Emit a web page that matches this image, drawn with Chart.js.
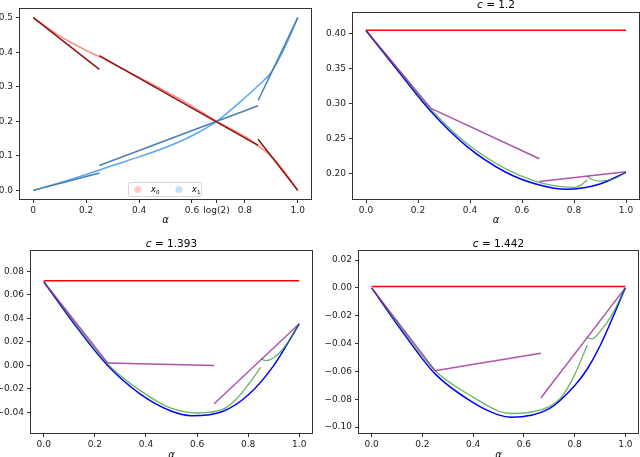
<!DOCTYPE html>
<html>
<head>
<meta charset="utf-8">
<script src="https://cdn.jsdelivr.net/npm/chart.js@4.4.0/dist/chart.umd.min.js"></script>
<style>
  html, body { margin: 0; padding: 0; background: #fff; overflow: hidden; width: 640px; height: 457px; }
  canvas { position: absolute; left: 0; top: 0; }
</style>
</head>
<body>
<canvas id="pTL" width="640" height="470"></canvas>
<canvas id="pTR" width="640" height="470"></canvas>
<canvas id="pBL" width="640" height="470"></canvas>
<canvas id="pBR" width="640" height="470"></canvas>
<script>
// ---------- data: top-left panel ----------
const alphaTL = [0, 0.1, 0.2, 0.25, 0.3, 0.4, 0.5, 0.6, 0.693, 0.8, 0.85, 0.9, 0.95, 1.0];
const x0Curve = [0.5, 0.447, 0.405, 0.387, 0.367, 0.327, 0.287, 0.244, 0.2, 0.156, 0.129, 0.099, 0.054, 0.0];
const x1Curve = [0, 0.022, 0.046, 0.059, 0.072, 0.097, 0.124, 0.158, 0.2, 0.268, 0.303, 0.342, 0.412, 0.5];
const segAlphaTL = [[0, 0.25], [0.25, 0.85], [0.85, 1.0]];
const x0Tangents = [[0.5, 0.35], [0.39, 0.13], [0.148, 0.0]];
const x1Tangents = [[0, 0.05], [0.072, 0.245], [0.26, 0.5]];
const xTicksTL = [0, 0.2, 0.4, 0.6, Math.log(2), 0.8, 1.0];
const xLabelsTL = ["0", "0.2", "0.4", "0.6", "log(2)", "0.8", "1.0"];
const yTicksTL = [0, 0.1, 0.2, 0.3, 0.4, 0.5];
const yLabelsTL = ["0.0", "0.1", "0.2", "0.3", "0.4", "0.5"];
const legendLabels = ["0", "1"];

// ---------- data: the three c panels ----------
const cLabels = ["1.2", "1.393", "1.442"];

const blueAlphaC1 = [0, 0.125, 0.25, 0.383, 0.536, 0.65, 0.77, 0.9, 1.0];
const blueC1 = [0.404, 0.3455, 0.2885, 0.2405, 0.2025, 0.1858, 0.1778, 0.1855, 0.202];
const blueAlphaC2 = [0, 0.124, 0.25, 0.378, 0.4955, 0.58, 0.7, 0.8, 0.9, 1.0];
const blueC2 = [0.071, 0.0338, -0.0002, -0.0245, -0.0386, -0.0428, -0.0392, -0.0252, -0.0002, 0.0353];
const blueAlphaC3 = [0, 0.125, 0.25, 0.4, 0.5, 0.55, 0.7, 0.8, 0.85, 0.9, 1.0];
const blueC3 = [0, -0.0325, -0.0618, -0.0825, -0.0913, -0.093, -0.0868, -0.0703, -0.0583, -0.0418, 0];

const greenAlphaC1 = [0, 0.125, 0.25, 0.383, 0.536, 0.65, 0.75, 0.8, 0.825, 0.85];
const greenC1a = [0.404, 0.3475, 0.2915, 0.2445, 0.2072, 0.1895, 0.1815, 0.1805, 0.1835, 0.191];
const greenAlphaC2 = [0, 0.124, 0.25, 0.378, 0.4955, 0.6, 0.7, 0.75, 0.8, 0.85];
const greenC2a = [0.071, 0.0352, 0.0012, -0.0215, -0.0362, -0.0405, -0.0375, -0.0295, -0.0165, -0.0015];
const greenAlphaC3 = [0, 0.125, 0.25, 0.4, 0.5, 0.55, 0.7, 0.75, 0.8, 0.85];
const greenC3a = [0, -0.031, -0.0595, -0.0785, -0.0885, -0.0903, -0.0853, -0.078, -0.0625, -0.041];

const greenAlphaB = [0.85, 0.87, 0.9, 0.95, 1.0];
const greenC1b = [0.1966, 0.1918, 0.1895, 0.1925, 0.202];
const greenC2b = [0.0055, 0.004, 0.0065, 0.0175, 0.0353];
const greenC3b = [-0.0357, -0.0366, -0.0315, -0.0185, 0];

const segAlphaC = [[0, 0.25], [0.25, 0.667], [0.667, 1.0]];
const purpleC1 = [[0.404, 0.2931], [0.2931, 0.2214], [0.189, 0.2029]];
const purpleC2 = [[0.071, 0.002], [0.002, -0.0002], [-0.0326, 0.0353]];
const purpleC3 = [[0.0, -0.0595], [-0.0595, -0.047], [-0.0792, 0.0]];
const redLevel = [0.4043, 0.072, 0.001];

const xTicksC = [0, 0.2, 0.4, 0.6, 0.8, 1.0];
const xLabelsC = ["0.0", "0.2", "0.4", "0.6", "0.8", "1.0"];
const yTicksC1 = [0.20, 0.25, 0.30, 0.35, 0.40];
const yLabelsC1 = ["0.20", "0.25", "0.30", "0.35", "0.40"];
const yTicksC2 = [-0.04, -0.02, 0, 0.02, 0.04, 0.06, 0.08];
const yLabelsC2 = ["\u22120.04", "\u22120.02", "0.00", "0.02", "0.04", "0.06", "0.08"];
const yTicksC3 = [-0.10, -0.08, -0.06, -0.04, -0.02, 0, 0.02];
const yLabelsC3 = ["\u22120.10", "\u22120.08", "\u22120.06", "\u22120.04", "\u22120.02", "0.00", "0.02"];

// ---------- helpers ----------
const FONT = "DejaVu Sans";
const CANVAS_W = 640, CANVAS_H = 470;

function curve(xs, ys, color, width) {
    return {
        data: xs.map((x, i) => ({ x: x, y: ys[i] })),
        borderColor: color,
        borderWidth: width || 1.5,
        pointRadius: 0,
        showLine: true,
        fill: false,
        cubicInterpolationMode: "monotone"
    };
}

function segments(segX, segY, color) {
    return segX.map((xs, i) => curve(xs, segY[i], color, 1.5));
}

const framePlugin = {
    id: "frame",
    afterDraw(chart) {
        const { ctx, chartArea: a } = chart;
        ctx.save();
        ctx.strokeStyle = "#333";
        ctx.lineWidth = 1;
        ctx.strokeRect(a.left - 0.5, a.top - 0.5, a.right - a.left + 1, a.bottom - a.top + 1);
        ctx.restore();
    }
};

const panelTitlePlugin = {
    id: "panelTitle",
    afterDraw(chart, args, opts) {
        if (!opts || !opts.value) return;
        const { ctx, chartArea: a } = chart;
        ctx.save();
        ctx.fillStyle = "#000";
        ctx.textBaseline = "alphabetic";
        const it = "italic 10.5px " + FONT;
        const rg = "10.5px " + FONT;
        ctx.font = it;
        const w1 = ctx.measureText("c").width;
        ctx.font = rg;
        const rest = " = " + opts.value;
        const w2 = ctx.measureText(rest).width;
        const x0 = (a.left + a.right) / 2 - (w1 + w2) / 2;
        const y = a.top - (opts.gap || 5);
        ctx.font = it;
        ctx.fillText("c", x0, y);
        ctx.font = rg;
        ctx.fillText(rest, x0 + w1, y);
        ctx.restore();
    }
};

const legendTLPlugin = {
    id: "legendTL",
    afterDraw(chart, args, opts) {
        if (!opts || !opts.items) return;
        const { ctx } = chart;
        ctx.save();
        const b = opts.box;
        ctx.fillStyle = "rgba(255,255,255,0.8)";
        ctx.strokeStyle = "#d6d6d6";
        ctx.lineWidth = 1;
        ctx.beginPath();
        ctx.roundRect(b.x + 0.5, b.y + 0.5, b.w, b.h, 2);
        ctx.fill();
        ctx.stroke();
        opts.items.forEach(item => {
            ctx.fillStyle = item.color;
            ctx.beginPath();
            ctx.arc(item.mx, b.y + b.h / 2 + 0.5, 3.6, 0, Math.PI * 2);
            ctx.fill();
            ctx.fillStyle = "#000";
            ctx.textBaseline = "alphabetic";
            ctx.font = "italic 8px " + FONT;
            const ty = b.y + b.h / 2 + 3;
            ctx.fillText("x", item.tx, ty);
            const wx = ctx.measureText("x").width;
            ctx.font = "5.6px " + FONT;
            ctx.fillText(item.sub, item.tx + wx + 0.3, ty + 1.8);
        });
        ctx.restore();
    }
};

function makePanel(id, box, xH, yRange, yTicks, yLabels, xTicks, xLabels, datasets, pluginOpts) {
    const yW = Math.min(box.l, 40);
    return new Chart(document.getElementById(id), {
        type: "scatter",
        data: { datasets: datasets },
        options: {
            responsive: false,
            animation: false,
            devicePixelRatio: 1,
            layout: {
                padding: {
                    left: box.l - yW,
                    right: CANVAS_W - box.r,
                    top: box.t,
                    bottom: CANVAS_H - box.b - xH
                }
            },
            plugins: Object.assign({
                legend: { display: false },
                tooltip: { enabled: false },
                title: { display: false }
            }, pluginOpts),
            scales: {
                x: {
                    type: "linear",
                    min: -0.05,
                    max: 1.05,
                    afterFit(s) { s.height = xH; s.paddingLeft = 0; s.paddingRight = 0; },
                    afterBuildTicks(s) { s.ticks = xTicks.map(v => ({ value: v })); },
                    grid: { display: true, drawOnChartArea: false, drawTicks: true, tickLength: 4, color: "#333" },
                    border: { display: false },
                    ticks: {
                        autoSkip: false,
                        maxRotation: 0,
                        minRotation: 0,
                        padding: 2,
                        color: "#222",
                        font: { family: FONT, size: 9 },
                        callback: (v, i) => xLabels[i]
                    },
                    title: {
                        display: true,
                        text: "\u03b1",
                        color: "#000",
                        font: { family: FONT, size: 10, style: "italic" },
                        padding: { top: 0, bottom: 0 }
                    }
                },
                y: {
                    type: "linear",
                    min: yRange[0],
                    max: yRange[1],
                    afterFit(s) { s.width = yW; s.paddingTop = 0; s.paddingBottom = 0; },
                    afterBuildTicks(s) { s.ticks = yTicks.map(v => ({ value: v })); },
                    grid: { display: true, drawOnChartArea: false, drawTicks: true, tickLength: 4, color: "#333" },
                    border: { display: false },
                    ticks: {
                        autoSkip: false,
                        padding: 3,
                        color: "#222",
                        font: { family: FONT, size: 9 },
                        callback: (v, i) => yLabels[i]
                    }
                }
            }
        },
        plugins: [framePlugin, panelTitlePlugin, legendTLPlugin]
    });
}

// ---------- top-left: x0 / x1 ----------
const tlDatasets = []
    .concat(segments(segAlphaTL, x0Tangents, "#8b1010"))
    .concat(segments(segAlphaTL, x1Tangents, "#4a7fb0"))
    .concat([
        curve(alphaTL, x0Curve, "rgba(250,120,105,0.85)", 1.5),
        curve(alphaTL, x1Curve, "rgba(60,150,245,0.85)", 1.5)
    ]);

makePanel("pTL", { l: 20, t: 9, r: 311, b: 199 }, 27,
    [-0.025, 0.525], yTicksTL, yLabelsTL, xTicksTL, xLabelsTL, tlDatasets,
    {
        legendTL: {
            box: { x: 128, y: 182, w: 73, h: 14 },
            items: [
                { sub: legendLabels[0], color: "rgba(250,128,114,0.4)", mx: 138, tx: 151 },
                { sub: legendLabels[1], color: "rgba(77,166,255,0.35)", mx: 179, tx: 192 }
            ]
        }
    });

// ---------- c panels ----------
function cDatasets(purple, greenAx, greenA, greenB, blueX, blue, red) {
    return []
        .concat(segments(segAlphaC, purple, "rgba(140,20,140,0.72)"))
        .concat([
            curve(greenAx, greenA, "rgba(40,150,40,0.7)", 1.3),
            curve(greenAlphaB, greenB, "rgba(40,150,40,0.7)", 1.3),
            curve(blueX, blue, "#0000ff", 1.5),
            curve([0, 1], [red, red], "#ff0000", 1.5)
        ]);
}

makePanel("pTR", { l: 353, t: 13, r: 639, b: 199 }, 27,
    [0.164, 0.429], yTicksC1, yLabelsC1, xTicksC, xLabelsC,
    cDatasets(purpleC1, greenAlphaC1, greenC1a, greenC1b, blueAlphaC1, blueC1, redLevel[0]),
    { panelTitle: { value: cLabels[0], gap: 5 } });

makePanel("pBL", { l: 31, t: 251, r: 312, b: 433 }, 28,
    [-0.0575, 0.0972], yTicksC2, yLabelsC2, xTicksC, xLabelsC,
    cDatasets(purpleC2, greenAlphaC2, greenC2a, greenC2b, blueAlphaC2, blueC2, redLevel[1]),
    { panelTitle: { value: cLabels[1], gap: 4 } });

makePanel("pBR", { l: 359, t: 251, r: 638, b: 433 }, 28,
    [-0.1043, 0.0265], yTicksC3, yLabelsC3, xTicksC, xLabelsC,
    cDatasets(purpleC3, greenAlphaC3, greenC3a, greenC3b, blueAlphaC3, blueC3, redLevel[2]),
    { panelTitle: { value: cLabels[2], gap: 4 } });
</script>
</body>
</html>
